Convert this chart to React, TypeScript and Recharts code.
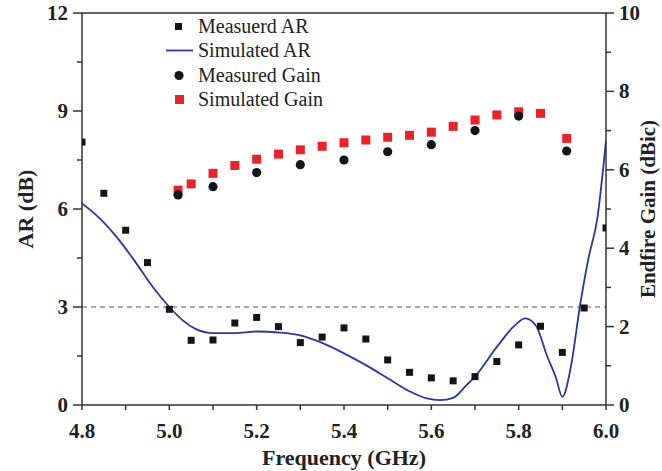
import {
  ComposedChart,
  Line,
  Scatter,
  XAxis,
  YAxis,
  ReferenceLine,
  Legend,
} from 'recharts'

document.body.style.margin = '0'

const AXIS = '#333'
const BLUE = '#2a3a9c'
const RED = '#e8232a'
const INK = '#151515'
const FONT = '"Liberation Serif", "Times New Roman", serif'

// measured AR (black squares)
const MEAS_AR_FREQ = [4.8, 4.85, 4.9, 4.95, 5.0, 5.05, 5.1, 5.15, 5.2, 5.25, 5.3, 5.35, 5.4, 5.45, 5.5, 5.55, 5.6, 5.65, 5.7, 5.75, 5.8, 5.85, 5.9, 5.95, 6.0]
const MEAS_AR = [8.05, 6.48, 5.35, 4.36, 2.93, 1.98, 1.99, 2.51, 2.68, 2.4, 1.91, 2.08, 2.36, 2.02, 1.38, 1.0, 0.83, 0.74, 0.87, 1.33, 1.84, 2.41, 1.61, 2.97, 5.42]

// simulated AR (blue curve)
const SIM_AR_FREQ = [4.8, 4.84, 4.88, 4.92, 4.96, 5.0, 5.03, 5.06, 5.1, 5.15, 5.2, 5.25, 5.3, 5.35, 5.4, 5.45, 5.5, 5.55, 5.59, 5.62, 5.65, 5.68, 5.7, 5.75, 5.79, 5.815, 5.84, 5.865, 5.885, 5.9, 5.92, 5.94, 5.96, 5.98, 6.0]
const SIM_AR = [6.17, 5.72, 5.13, 4.42, 3.65, 3.0, 2.6, 2.33, 2.2, 2.2, 2.25, 2.22, 2.13, 1.9, 1.58, 1.22, 0.82, 0.42, 0.2, 0.15, 0.22, 0.6, 0.87, 1.78, 2.42, 2.65, 2.42, 1.5, 0.85, 0.25, 1.2, 3.0, 4.5, 5.7, 8.1]

// simulated gain (red squares)
const SIM_GAIN_FREQ = [5.02, 5.05, 5.1, 5.15, 5.2, 5.25, 5.3, 5.35, 5.4, 5.45, 5.5, 5.55, 5.6, 5.65, 5.7, 5.75, 5.8, 5.85, 5.91]
const SIM_GAIN = [5.48, 5.64, 5.91, 6.11, 6.27, 6.4, 6.51, 6.6, 6.69, 6.76, 6.83, 6.88, 6.96, 7.11, 7.27, 7.4, 7.48, 7.44, 6.8]

// measured gain (black circles)
const MEAS_GAIN_FREQ = [5.02, 5.1, 5.2, 5.3, 5.4, 5.5, 5.6, 5.7, 5.8, 5.91]
const MEAS_GAIN = [5.36, 5.57, 5.93, 6.13, 6.25, 6.46, 6.64, 7.0, 7.37, 6.48]

const X_TICKS = [4.8, 4.9, 5.0, 5.1, 5.2, 5.3, 5.4, 5.5, 5.6, 5.7, 5.8, 5.9, 6.0]
const AR_TICKS = [0, 1.5, 3, 4.5, 6, 7.5, 9, 10.5, 12]
const GAIN_TICKS = [0, 1, 2, 3, 4, 5, 6, 7, 8, 9, 10]

const LEGEND_ITEMS = ['Measuerd AR', 'Simulated AR', 'Measured Gain', 'Simulated Gain']

const pts = (xs: number[], ys: number[]) => xs.map((x, i) => ({ x, y: ys[i] }))

const measAr = pts(MEAS_AR_FREQ, MEAS_AR)
const simAr = pts(SIM_AR_FREQ, SIM_AR)
const simGain = pts(SIM_GAIN_FREQ, SIM_GAIN)
const measGain = pts(MEAS_GAIN_FREQ, MEAS_GAIN)

const tickText = { fontFamily: FONT, fontWeight: 700, fontSize: 21, fill: '#222' }

function LeftTick({ x, y, payload }: any) {
  const v = payload.value
  const major = v % 3 === 0
  return (
    <g>
      <line x1={x - (major ? 9 : 5)} x2={x} y1={y} y2={y} stroke={AXIS} strokeWidth={1.5} />
      {major && (
        <text x={x - 14} y={y} dy={7} textAnchor="end" {...tickText}>{v}</text>
      )}
    </g>
  )
}

function RightTick({ x, y, payload }: any) {
  const v = payload.value
  const major = v % 2 === 0
  return (
    <g>
      <line x1={x} x2={x + (major ? 8 : 5)} y1={y} y2={y} stroke={AXIS} strokeWidth={1.5} />
      {major && (
        <text x={x + 13} y={y} dy={7} textAnchor="start" {...tickText}>{v}</text>
      )}
    </g>
  )
}

function BottomTick({ x, y, payload }: any) {
  const v = payload.value
  const major = Math.round(v * 10) % 2 === 0
  return (
    <g>
      <line x1={x} x2={x} y1={y} y2={y + 5} stroke={AXIS} strokeWidth={1.5} />
      {major && (
        <text x={x} y={y + 33} textAnchor="middle" {...tickText}>{v.toFixed(1)}</text>
      )}
    </g>
  )
}

function Square({ cx, cy, size, color }: { cx?: number; cy?: number; size: number; color: string }) {
  if (cx === undefined || cy === undefined) return null
  return <rect x={cx - size / 2} y={cy - size / 2} width={size} height={size} fill={color} />
}

function Dot({ cx, cy }: { cx?: number; cy?: number }) {
  if (cx === undefined || cy === undefined) return null
  return <circle cx={cx} cy={cy} r={4.6} fill={INK} />
}

function LegendBox() {
  const markers = [
    <rect x={9} y={7} width={7} height={7} fill={INK} />,
    <line x1={0} x2={27} y1={10.5} y2={10.5} stroke={BLUE} strokeWidth={1.8} />,
    <circle cx={13} cy={10.5} r={4.6} fill={INK} />,
    <rect x={9} y={6} width={9} height={9} fill={RED} />,
  ]
  return (
    <div style={{ fontFamily: FONT, fontSize: 20, color: '#222' }}>
      {LEGEND_ITEMS.map((name, i) => (
        <div key={name} style={{ display: 'flex', alignItems: 'center', height: 24.5 }}>
          <svg width={30} height={21} style={{ marginRight: 2 }}>{markers[i]}</svg>
          <span>{name}</span>
        </div>
      ))}
    </div>
  )
}

export default function App() {
  return (
    <ComposedChart width={662} height={471} margin={{ top: 13, right: 0, bottom: 0, left: 0 }}>
      <XAxis
        dataKey="x"
        type="number"
        domain={[4.8, 6.0]}
        allowDataOverflow
        ticks={X_TICKS}
        interval={0}
        tickSize={0}
        tickMargin={0}
        tick={<BottomTick />}
        axisLine={{ stroke: AXIS, strokeWidth: 1.5 }}
        height={66}
        label={({ viewBox }: any) => (
          <text
            x={viewBox.x + viewBox.width / 2}
            y={viewBox.y + 60}
            textAnchor="middle"
            fontFamily={FONT}
            fontWeight={700}
            fontSize={22}
            fill="#222"
          >
            Frequency (GHz)
          </text>
        )}
      />
      <YAxis
        yAxisId="ar"
        dataKey="y"
        type="number"
        domain={[0, 12]}
        allowDataOverflow
        ticks={AR_TICKS}
        interval={0}
        tickSize={0}
        tickMargin={0}
        tick={<LeftTick />}
        axisLine={{ stroke: AXIS, strokeWidth: 1.5 }}
        width={82}
        label={({ viewBox }: any) => (
          <text
            x={25}
            y={viewBox.y + viewBox.height / 2}
            transform={`rotate(-90 25 ${viewBox.y + viewBox.height / 2})`}
            textAnchor="middle"
            dominantBaseline="central"
            fontFamily={FONT}
            fontWeight={700}
            fontSize={22}
            fill="#222"
          >
            AR (dB)
          </text>
        )}
      />
      <YAxis
        yAxisId="gain"
        orientation="right"
        dataKey="y"
        type="number"
        domain={[0, 10]}
        allowDataOverflow
        ticks={GAIN_TICKS}
        interval={0}
        tickSize={0}
        tickMargin={0}
        tick={<RightTick />}
        axisLine={{ stroke: AXIS, strokeWidth: 1.5 }}
        width={56}
        label={({ viewBox }: any) => (
          <text
            x={648}
            y={viewBox.y + viewBox.height / 2}
            transform={`rotate(-90 648 ${viewBox.y + viewBox.height / 2})`}
            textAnchor="middle"
            dominantBaseline="central"
            fontFamily={FONT}
            fontWeight={700}
            fontSize={21}
            fill="#222"
          >
            Endfire Gain (dBic)
          </text>
        )}
      />

      <ReferenceLine yAxisId="ar" y={12} stroke={AXIS} strokeWidth={1.5} />
      <ReferenceLine yAxisId="ar" y={3} stroke="#555" strokeWidth={1} strokeDasharray="5 4" />

      <Legend
        layout="vertical"
        align="center"
        verticalAlign="middle"
        content={<LegendBox />}
        wrapperStyle={{ left: 166, top: 14, width: 220 }}
      />

      <Line
        yAxisId="ar"
        data={simAr}
        dataKey="y"
        type="monotone"
        stroke={BLUE}
        strokeWidth={1.8}
        dot={false}
        activeDot={false}
        isAnimationActive={false}
        legendType="none"
      />
      <Scatter
        yAxisId="ar"
        data={measAr}
        dataKey="y"
        isAnimationActive={false}
        shape={(p: any) => <Square cx={p.cx} cy={p.cy} size={7} color={INK} />}
      />
      <Scatter
        yAxisId="gain"
        data={simGain}
        dataKey="y"
        isAnimationActive={false}
        shape={(p: any) => <Square cx={p.cx} cy={p.cy} size={9} color={RED} />}
      />
      <Scatter
        yAxisId="gain"
        data={measGain}
        dataKey="y"
        isAnimationActive={false}
        shape={(p: any) => <Dot cx={p.cx} cy={p.cy} />}
      />
    </ComposedChart>
  )
}
